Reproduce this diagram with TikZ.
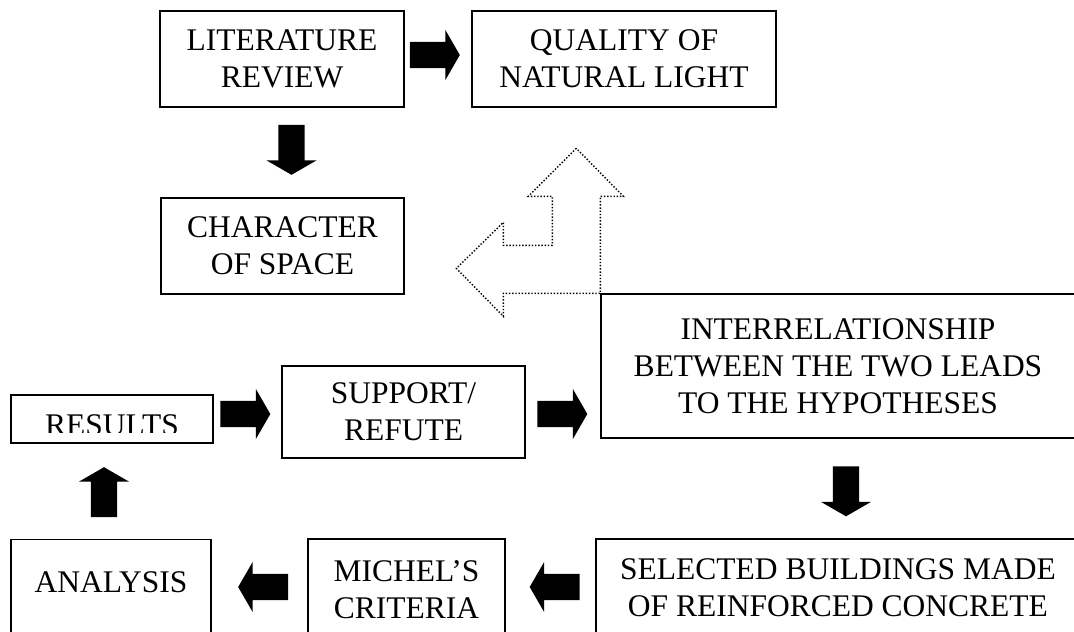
\documentclass[tikz,border=0pt]{standalone}
\usepackage{fontspec}
\setmainfont{Liberation Serif}
\usetikzlibrary{shapes.arrows, positioning}

\begin{document}
\begin{tikzpicture}[x=1pt, y=-1pt,
	box/.style={draw, rectangle, line width=1.3pt, inner sep=0pt, align=center, font=\fontsize{31.5}{37}\selectfont},
	boxtext/.style={inner sep=0pt, align=center, font=\fontsize{31.5}{37}\selectfont},
	blockarrow/.style={single arrow, fill=black, inner sep=13pt, minimum height=50pt, single arrow head extend=12pt, single arrow tip angle=120},
	lightpath/.style={line width=1.4pt, dash pattern=on 1.4pt off 1.8pt}]
	
	% page
	\fill[white] (0,0) rectangle (1074,632);
	\clip (0,0) rectangle (1074,632);
	
	% the two leads
	\node[box, minimum width=244pt, minimum height=96pt] (lit) at (282,59) {LITERATURE\\REVIEW};
	\node[box, minimum width=304pt, minimum height=96pt] (qual) at (624,59) {QUALITY OF\\NATURAL LIGHT};
	\node[box, minimum width=243pt, minimum height=96pt] (charac) at (282.5,246) {CHARACTER\\OF SPACE};
	
	% hypotheses and the cycle
	\node[box, minimum width=474pt, minimum height=144pt] (inter) at (838,366) {INTERRELATIONSHIP\\BETWEEN THE TWO LEADS\\TO THE HYPOTHESES};
	\node[box, minimum width=243pt, minimum height=92pt] (support) at (403.5,412) {SUPPORT/\\REFUTE};
	\node[box, minimum width=202pt, minimum height=48pt] (results) at (112,419) {};
	\begin{scope}
		\clip (results.north west) rectangle ([yshift=11pt]results.south east);
		\node[boxtext] (resultstext) at ([yshift=-6pt]results.center) {RESULTS};
	\end{scope}
	\node[box, minimum width=200pt, minimum height=110pt, text depth=25pt, anchor=north] (analysis) at (111,539) {ANALYSIS};
	\node[box, minimum width=197pt, minimum height=102pt] (michel) at (406.5,590) {MICHEL’S\\CRITERIA};
	\node[box, minimum width=484pt, minimum height=98pt] (selected) at (838,588) {SELECTED BUILDINGS MADE\\OF REINFORCED CONCRETE};
	
	% block arrows
	\node[blockarrow] (a1) at (431,55) {};
	\node[blockarrow, rotate=-90] (a2) at (291.5,146) {};
	\node[blockarrow] (a3) at (241.5,414) {};
	\node[blockarrow] (a4) at (558.5,414) {};
	\node[blockarrow, rotate=-90] (a5) at (846,487.5) {};
	\node[blockarrow, rotate=180] (a6) at (558.5,587) {};
	\node[blockarrow, rotate=180] (a7) at (267,587) {};
	\node[blockarrow, rotate=90] (a8) at (104,496) {};
	
	% dotted double arrow on the corner of the hypotheses
	\begin{scope}[shift={(inter.north west)}]
		\draw[lightpath] (-24,-145) -- (-72,-97) -- (-48,-97) -- (-48,-48) -- (-97,-48) -- (-97,-71) -- (-144,-25) -- (-97,23) -- (-97,0) -- (0,0) -- (0,-97) -- (23,-97) -- cycle;
	\end{scope}
	
\end{tikzpicture}
\end{document}
